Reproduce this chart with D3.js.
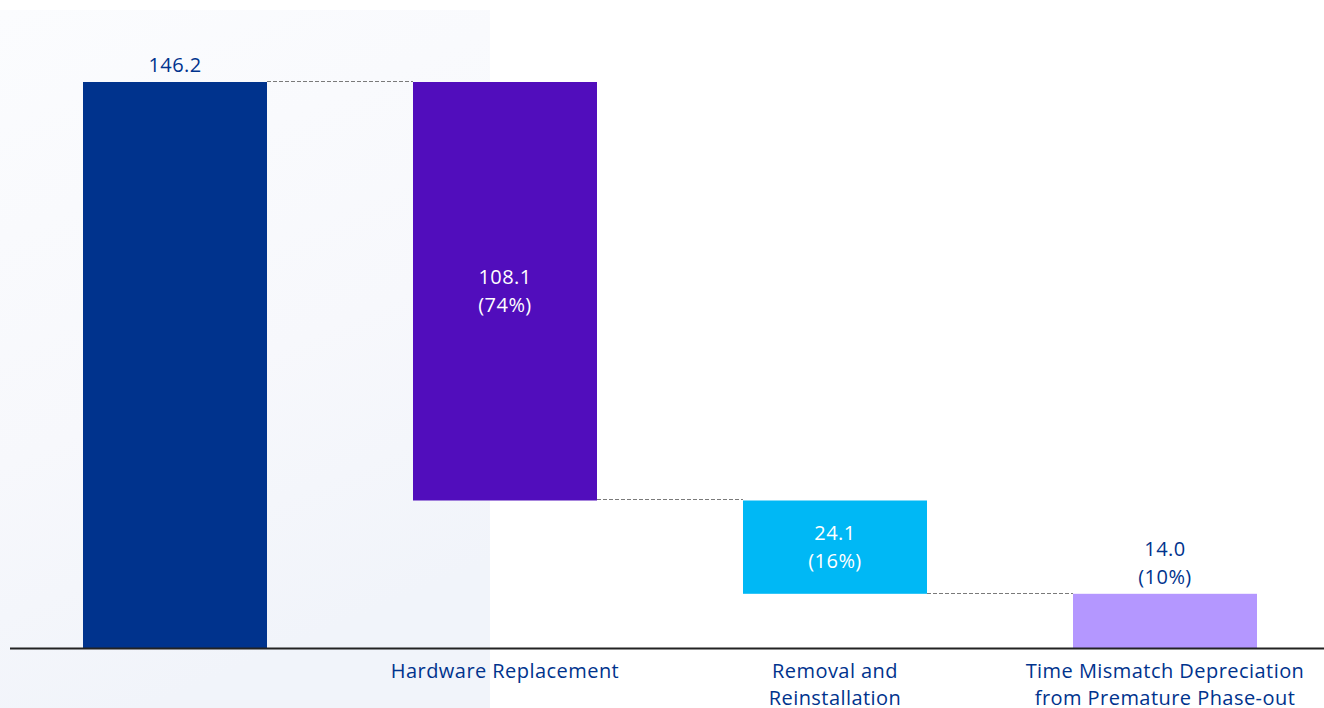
<!DOCTYPE html>
<html>
<head>
<meta charset="utf-8">
<script src="https://cdn.jsdelivr.net/npm/d3@7"></script>
<style>
  html, body { margin: 0; padding: 0; background: #ffffff; }
  svg { display: block; }
  text { font-family: "Open Sans", "Noto Sans", sans-serif; letter-spacing: 0.45px; }
</style>
</head>
<body>
<svg id="chart" width="1324" height="708"></svg>
<script>
// Cost breakdown waterfall: total followed by its three components
const categories = ["Total", "Hardware Replacement", "Removal and\nReinstallation", "Time Mismatch Depreciation\nfrom Premature Phase-out"];
const values = [146.2, 108.1, 24.1, 14.0];
const shares = [null, "74%", "16%", "10%"];
const isTotal = [true, false, false, false];
const showCategory = [false, true, true, true];
const colors = ["#00338D", "#510DBC", "#00B8F5", "#B497FF"];

const width = 1324, height = 708;
const plotTop = 82, baseY = 648;
const fontSize = 20;
const textBlue = "#00338D";

const svg = d3.select("#chart");

// soft panel on the left side of the canvas, slightly bluer towards the bottom
const defs = svg.append("defs");
const grad = defs.append("linearGradient").attr("id", "panel").attr("x1", 0).attr("y1", 0).attr("x2", 0.3).attr("y2", 1);
grad.append("stop").attr("offset", "0%").attr("stop-color", "#fbfcfe");
grad.append("stop").attr("offset", "60%").attr("stop-color", "#f7f8fc");
grad.append("stop").attr("offset", "100%").attr("stop-color", "#f1f4fa");
svg.append("rect").attr("x", 0).attr("y", 10).attr("width", 490).attr("height", height - 10).attr("fill", "url(#panel)");

// waterfall segments: start/end for each step
let running = 0;
const segs = values.map((v, i) => {
  let y0, y1;
  if (isTotal[i]) { y0 = 0; y1 = v; running = v; }
  else { y1 = running; y0 = running - v; running = y0; }
  return { i, cat: categories[i], v, y0, y1, share: shares[i], color: colors[i] };
});

// bands at a 330px pitch, 184px wide
const x = d3.scaleBand()
  .domain(d3.range(categories.length))
  .range([83, 83 + 330 * 3 + 184])
  .paddingInner((330 - 184) / 330)
  .paddingOuter(0)
  .align(0);

const y = d3.scaleLinear().domain([0, d3.max(segs, d => d.y1)]).range([baseY, plotTop]);

// bars
svg.append("g").selectAll("rect").data(segs).join("rect")
  .attr("x", d => x(d.i))
  .attr("width", x.bandwidth())
  .attr("y", d => y(d.y1))
  .attr("height", d => y(d.y0) - y(d.y1))
  .attr("fill", d => d.color);

// dashed connectors between consecutive bars
const conn = segs.slice(0, -1).map((d, k) => ({ from: d, to: segs[k + 1] }));
svg.append("g").selectAll("line").data(conn).join("line")
  .attr("x1", d => x(d.from.i) + x.bandwidth())
  .attr("x2", d => x(d.to.i))
  .attr("y1", d => Math.round(y(isTotal[d.from.i] ? d.from.y1 : d.from.y0)) - 0.5)
  .attr("y2", d => Math.round(y(isTotal[d.from.i] ? d.from.y1 : d.from.y0)) - 0.5)
  .attr("stroke", "#7a7a7a")
  .attr("stroke-width", 1)
  .attr("stroke-dasharray", "4,2");

// baseline axis
const xAxis = d3.axisBottom(x).tickSize(0).tickFormat("");
const axisG = svg.append("g").attr("transform", `translate(0,${baseY})`).call(xAxis);
axisG.select(".domain")
  .attr("d", `M10,0.5H${width}`)
  .attr("stroke", "#222222")
  .attr("stroke-width", 2);

// value labels: inside the bar when it fits, otherwise above it
const fmt = d3.format(".1f");
const lineH = 28;
const labels = svg.append("g").attr("font-size", fontSize).attr("text-anchor", "middle");
segs.forEach(d => {
  const cx = x(d.i) + x.bandwidth() / 2;
  const h = y(d.y0) - y(d.y1);
  const lines = d.share ? [fmt(d.v), `(${d.share})`] : [fmt(d.v)];
  const blockH = lines.length * lineH;
  const inside = !isTotal[d.i] && h > blockH + 10;
  let firstBase, fill;
  if (inside) {
    firstBase = (y(d.y0) + y(d.y1)) / 2 - blockH / 2 + 21;
    fill = "#ffffff";
  } else {
    firstBase = y(d.y1) - 10 - (lines.length - 1) * lineH;
    fill = textBlue;
  }
  const t = labels.append("text").attr("fill", fill);
  lines.forEach((s, k) => {
    t.append("tspan").attr("x", cx).attr("y", firstBase + k * lineH).text(s);
  });
});

// category labels
const catG = svg.append("g").attr("font-size", fontSize).attr("text-anchor", "middle").attr("fill", textBlue);
segs.forEach(d => {
  if (!showCategory[d.i]) return;
  const cx = x(d.i) + x.bandwidth() / 2;
  const t = catG.append("text");
  d.cat.split("\n").forEach((s, k) => {
    t.append("tspan").attr("x", cx).attr("y", baseY + 30 + k * 27).text(s);
  });
});
</script>
</body>
</html>
